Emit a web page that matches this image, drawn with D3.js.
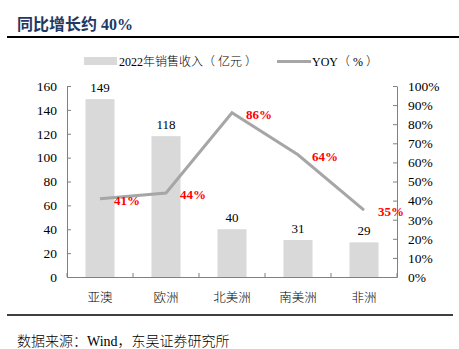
<!DOCTYPE html>
<html><head><meta charset="utf-8">
<script src="https://cdn.jsdelivr.net/npm/d3@7"></script>
<style>
body{margin:0;background:#fff;}
svg{display:block;}
text{font-family:"Liberation Serif","Times New Roman","Noto Sans CJK SC",serif;}
</style></head>
<body>
<script>
const categories = ["亚澳","欧洲","北美洲","南美洲","非洲"];
const revenue = [149,118,40,31,29];
const yoy = [41,44,86,64,35];
const leftTicks = [0,20,40,60,80,100,120,140,160];
const rightTicks = [0,10,20,30,40,50,60,70,80,90,100];

const W=459,H=349;
const svg=d3.select("body").append("svg").attr("width",W).attr("height",H);
const m={l:67,r:397,t:86,b:277};

// title
svg.append("text").attr("x",17).attr("y",30).attr("font-size",16).attr("font-weight","bold")
  .attr("fill","#1f3864").text("同比增长约 40%");
svg.append("line").attr("x1",7).attr("x2",459).attr("y1",37).attr("y2",37).attr("stroke","#000").attr("stroke-width",2);
svg.append("line").attr("x1",7).attr("x2",453).attr("y1",315).attr("y2",315).attr("stroke","#000").attr("stroke-width",1.5);
svg.append("text").attr("x",17).attr("y",346).attr("font-size",14).attr("font-weight",300).attr("fill","#000").text("数据来源：Wind，东吴证券研究所");

const x=d3.scaleBand().domain(categories).range([m.l,m.r]).paddingInner(0.56).paddingOuter(0.28);
const y=d3.scaleLinear().domain([0,160]).range([m.b,m.t]);
const y2=d3.scaleLinear().domain([0,100]).range([m.b,m.t]);

// bars
svg.selectAll("rect.bar").data(revenue).enter().append("rect")
  .attr("x",(d,i)=>x(categories[i])).attr("width",x.bandwidth())
  .attr("y",d=>y(d)).attr("height",d=>m.b-y(d)).attr("fill","#d9d9d9");
svg.selectAll("text.bl").data(revenue).enter().append("text")
  .attr("x",(d,i)=>x(categories[i])+x.bandwidth()/2).attr("y",d=>y(d)-7)
  .attr("text-anchor","middle").attr("font-size",13).attr("fill","#000").text(d=>d);

// axes
const axC="#808080";
const gl=svg.append("g").attr("transform",`translate(${m.l},0)`)
  .call(d3.axisLeft(y).tickValues(leftTicks).tickSizeInner(-4).tickSizeOuter(0).tickPadding(10));
const gr=svg.append("g").attr("transform",`translate(${m.r},0)`)
  .call(d3.axisRight(y2).tickValues(rightTicks).tickSizeInner(-4).tickSizeOuter(0).tickPadding(11).tickFormat(d=>d+"%"));
const gx=svg.append("g").attr("transform",`translate(0,${m.b})`)
  .call(d3.axisBottom(x).tickSize(0).tickPadding(16));
gx.selectAll("text").attr("font-size",12.5).attr("fill","#000").attr("font-family","'Noto Sans CJK SC',sans-serif").attr("font-weight",300);
// x boundary ticks
const edges=d3.range(categories.length+1).map(i=>m.l+i*(m.r-m.l)/categories.length);
svg.selectAll("line.xt").data(edges).enter().append("line")
  .attr("x1",d=>d).attr("x2",d=>d).attr("y1",m.b).attr("y2",m.b-4).attr("stroke",axC);
[gl,gr,gx].forEach(g=>{g.select(".domain").attr("stroke",axC);g.selectAll(".tick line").attr("stroke",axC);g.selectAll("text").attr("fill","#000");});
gl.selectAll("text").attr("font-size",13.5);
gr.selectAll("text").attr("font-size",13.5);

// line
const cx=i=>x(categories[i])+x.bandwidth()/2;
svg.append("path").datum(yoy).attr("fill","none").attr("stroke","#a6a6a6").attr("stroke-width",3)
  .attr("d",d3.line().x((d,i)=>cx(i)).y(d=>y2(d)));
svg.selectAll("text.yl").data(yoy).enter().append("text")
  .attr("x",(d,i)=>cx(i)+14).attr("y",d=>y2(d)+6)
  .attr("font-size",13).attr("font-weight","bold").attr("fill","#ff0000").text(d=>d+"%");

// legend
svg.append("rect").attr("x",84).attr("y",57).attr("width",33).attr("height",8).attr("fill","#d9d9d9");
svg.append("text").attr("x",119).attr("y",66).attr("font-size",12).attr("font-weight",300).attr("fill","#000").text("2022年销售收入（ 亿元 ）");
svg.append("line").attr("x1",277).attr("x2",311).attr("y1",61.5).attr("y2",61.5).attr("stroke","#a6a6a6").attr("stroke-width",3);
svg.append("text").attr("x",312).attr("y",66).attr("font-size",12).attr("font-weight",300).attr("fill","#000").text("YOY（ % ）");
</script>
</body></html>
